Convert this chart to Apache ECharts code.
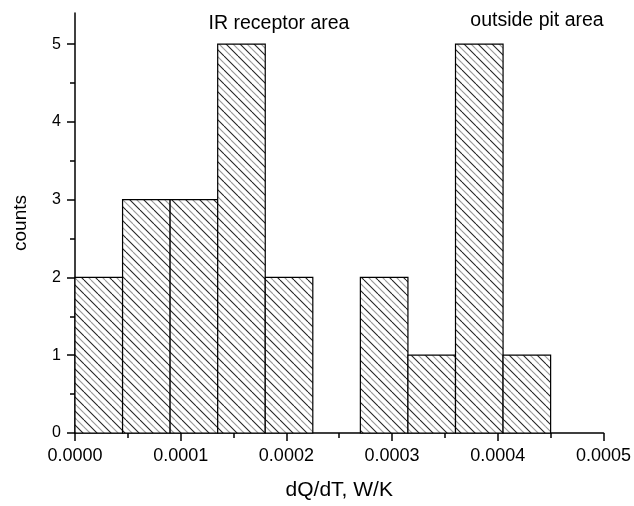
<!DOCTYPE html>
<html><head><meta charset="utf-8">
<script src="https://cdn.jsdelivr.net/npm/echarts@6/dist/echarts.min.js"></script>
<style>html,body{margin:0;padding:0;background:#fff}#c{width:634px;height:506px}</style>
</head><body><div id="c"></div><script>
// ---- data ----
const binStarts = [0, 0.000045, 0.00009, 0.000135, 0.00018, 0.000225, 0.00027, 0.000315, 0.00036, 0.000405];
const binWidth = 0.000045;
const counts = [2, 3, 3, 5, 2, 0, 2, 1, 5, 1];
const yTicks = [0, 1, 2, 3, 4, 5];
const yMinorTicks = [0.5, 1.5, 2.5, 3.5, 4.5];
const xName = 'dQ/dT, W/K';
const yName = 'counts';
const annotations = ['IR receptor area', 'outside pit area'];

// ---- hatch pattern ----
function makeHatch() {
  const T = 14;
  const c = document.createElement('canvas');
  c.width = T; c.height = T;
  const g = c.getContext('2d');
  g.fillStyle = '#fff'; g.fillRect(0, 0, T, T);
  g.lineWidth = 1.1;
  for (let i = -4; i <= 4; i++) {
    const o = i * T / 2;
    g.strokeStyle = (i % 2 === 0) ? '#222' : '#9a9a9a';
    g.beginPath(); g.moveTo(o, 0); g.lineTo(o + T, T); g.stroke();
  }
  return c;
}
const hatch = makeHatch();

const font = 'Liberation Sans, Arial, sans-serif';
const chart = echarts.init(document.getElementById('c'), null, {renderer: 'canvas'});
const histData = binStarts.map((s, i) => [s, s + binWidth, counts[i]]);

chart.setOption({
  animation: false,
  backgroundColor: '#fff',
  grid: {left: 75, right: 30, top: 13, bottom: 67, containLabel: false},
  xAxis: {
    type: 'value', min: 0, max: 0.0005, interval: 0.0001,
    name: xName, nameLocation: 'middle', nameGap: 47,
    nameTextStyle: {fontFamily: font, fontSize: 21, color: '#000'},
    axisLine: {show: true, lineStyle: {color: '#000', width: 1.5}},
    axisTick: {show: true, length: 8, lineStyle: {color: '#000', width: 1.5}},
    minorTick: {show: true, splitNumber: 2, length: 5, lineStyle: {color: '#000', width: 1.5}},
    axisLabel: {fontFamily: font, fontSize: 18, color: '#000', margin: 14,
      formatter: v => v.toFixed(4)},
    splitLine: {show: false}
  },
  yAxis: [{
    type: 'value', min: 0, max: 5.4, position: 'left',
    name: yName, nameLocation: 'middle', nameGap: 45,
    nameTextStyle: {fontFamily: font, fontSize: 19, color: '#000'},
    axisLine: {show: true, lineStyle: {color: '#000', width: 1.5}},
    axisTick: {show: true, length: 8, customValues: yTicks, lineStyle: {color: '#000', width: 1.5}},
    axisLabel: {fontFamily: font, fontSize: 16, color: '#000', margin: 14, customValues: yTicks,
      formatter: v => String(v)},
    splitLine: {show: false}
  }, {
    type: 'value', min: 0, max: 5.4, position: 'left',
    axisLine: {show: false},
    axisTick: {show: true, length: 5, customValues: yMinorTicks, lineStyle: {color: '#000', width: 1.5}},
    axisLabel: {show: false},
    splitLine: {show: false}
  }],
  series: [{
    type: 'custom',
    yAxisIndex: 0,
    data: histData,
    encode: {x: [0, 1], y: 2},
    renderItem: function (params, api) {
      const h = api.value(2);
      if (!h) return null;
      const p0 = api.coord([api.value(0), h]);
      const p1 = api.coord([api.value(1), 0]);
      return {
        type: 'rect',
        shape: {x: p0[0], y: p0[1], width: p1[0] - p0[0], height: p1[1] - p0[1]},
        style: {fill: {image: hatch, repeat: 'repeat'}, stroke: '#000', lineWidth: 1.2}
      };
    }
  }],
  graphic: [
    {id: 'a0', type: 'text', x: 279, y: 24, style: {text: annotations[0], fontFamily: font, fontSize: 19.5, fill: '#000', align: 'center', verticalAlign: 'middle'}},
    {id: 'a1', type: 'text', x: 537, y: 21, style: {text: annotations[1], fontFamily: font, fontSize: 19.5, fill: '#000', align: 'center', verticalAlign: 'middle'}}
  ]
});
</script></body></html>
